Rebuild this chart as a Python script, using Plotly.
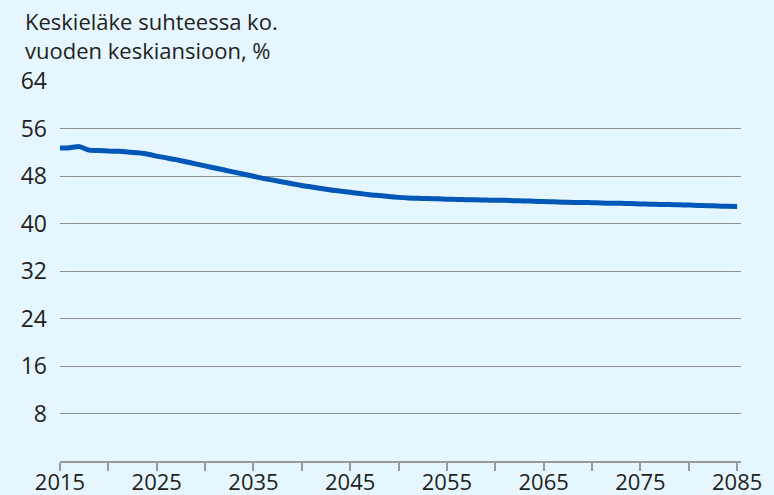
import plotly.graph_objects as go

years = list(range(2015, 2086))
values = [52.7, 52.75, 52.95, 52.35, 52.3, 52.2, 52.15, 52.05, 51.9, 51.7,
          51.35, 51.05, 50.75, 50.4, 50.05, 49.7, 49.35, 49.0, 48.65, 48.3,
          47.95, 47.6, 47.3, 47.0, 46.7, 46.4, 46.15, 45.9, 45.65, 45.45,
          45.25, 45.05, 44.85, 44.7, 44.55, 44.4, 44.3, 44.25, 44.2, 44.15,
          44.1, 44.05, 44.0, 44.0, 43.95, 43.9, 43.9, 43.85, 43.8, 43.75,
          43.7, 43.65, 43.6, 43.55, 43.55, 43.5, 43.45, 43.4, 43.4, 43.35,
          43.3, 43.25, 43.2, 43.2, 43.15, 43.1, 43.05, 43.0, 42.95, 42.9,
          42.85]
x_tick_vals = list(range(2015, 2086, 5))
x_tick_text = [str(v) if (v - 2015) % 10 == 0 else "" for v in x_tick_vals]
y_tick_vals = [8, 16, 24, 32, 40, 48, 56, 64]
title_text = "Keskieläke suhteessa ko.<br>vuoden keskiansioon, %"

bg = "#E6F6FE"
font_color = "#231F20"
fam = "Open Sans, Noto Sans, sans-serif"

fig = go.Figure()
fig.add_trace(go.Scatter(x=years, y=values, mode="lines",
                         line=dict(color="#0057B8", width=5, shape="spline", smoothing=0.6),
                         hoverinfo="skip", showlegend=False))

plot_top, plot_bottom = 81, 461
ph = plot_bottom - plot_top

fig.update_layout(
    width=774, height=495,
    paper_bgcolor=bg, plot_bgcolor=bg,
    margin=dict(l=60, r=33, t=plot_top, b=495 - plot_bottom, pad=0),
    font=dict(family=fam, size=22, color=font_color),
    xaxis=dict(range=[2015, 2085.4], tickvals=x_tick_vals, ticktext=x_tick_text,
               showgrid=False, zeroline=False, showline=True, linecolor="#999999",
               linewidth=2, ticks="outside", ticklen=8, tickcolor="#999999",
               tickwidth=1.5, automargin=False, ticklabelstandoff=-7,
               tickfont=dict(family=fam, size=22, color=font_color)),
    yaxis=dict(range=[0, 64], tickvals=y_tick_vals, showgrid=True,
               gridcolor="#8F8F8F", gridwidth=1, zeroline=False, showline=False,
               ticks="", ticklabelstandoff=12, automargin=False,
               tickfont=dict(family=fam, size=23, color=font_color)),
    annotations=[dict(text=title_text, x=0, xref="paper", xanchor="left", xshift=-37,
                      y=(plot_bottom - 35) / ph, yref="paper", yanchor="middle",
                      showarrow=False, align="left",
                      font=dict(family=fam, size=22, color=font_color))],
)

fig.write_html("out.html", config={"displayModeBar": False},
               post_script="document.body.style.margin='0';")
